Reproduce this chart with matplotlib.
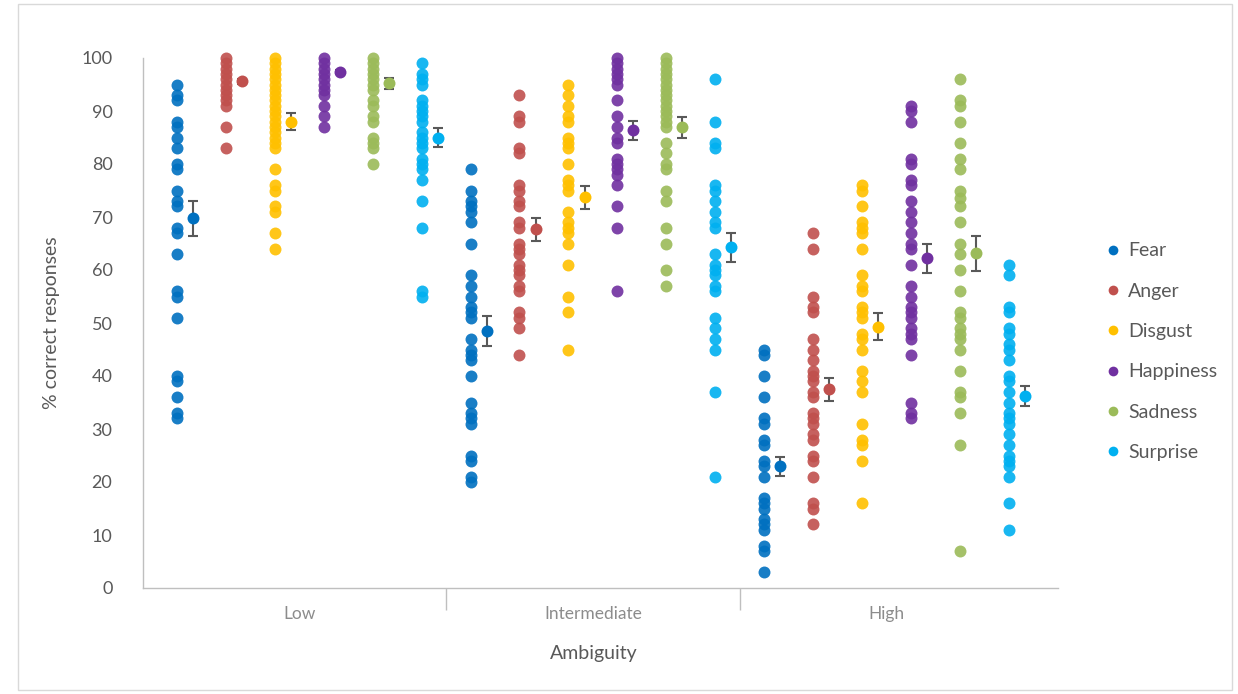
"""Dot plot: % correct responses by emotion and ambiguity level."""

import matplotlib
matplotlib.use("Agg")
import matplotlib.pyplot as plt
from matplotlib.patches import Rectangle
from matplotlib.lines import Line2D

plt.rcParams["font.family"] = ["Lato", "DejaVu Sans"]

# categories and series
levels = ["Low", "Intermediate", "High"]
emotions = ["Fear", "Anger", "Disgust", "Happiness", "Sadness", "Surprise"]
colors = ["#0070C0", "#C0504D", "#FFC000", "#7030A0", "#9BBB59", "#00B0F0"]

# individual scores
low_fear = [95, 93, 92, 88, 87, 85, 83, 80, 79, 75, 73, 72, 68, 67, 63, 56, 55, 51, 40, 39, 36, 33, 32]
low_anger = [100, 99, 98, 97, 96, 95, 94, 93, 92, 91, 87, 83]
low_disgust = [100, 99, 98, 97, 96, 95, 94, 93, 92, 91, 90, 89, 88, 87, 86, 85, 84, 83, 79, 76, 75, 72, 71, 67, 64]
low_happiness = [100, 99, 98, 97, 96, 95, 94, 93, 91, 89, 87]
low_sadness = [100, 99, 98, 97, 96, 95, 94, 92, 91, 89, 88, 85, 84, 83, 80]
low_surprise = [99, 97, 96, 95, 92, 91, 90, 89, 88, 86, 85, 84, 83, 81, 80, 79, 77, 73, 68, 56, 55]

int_fear = [79, 75, 73, 72, 71, 69, 65, 59, 57, 55, 53, 52, 51, 47, 45, 44, 43, 40, 35, 33, 32, 31, 25, 24, 21, 20]
int_anger = [93, 89, 88, 83, 82, 76, 75, 73, 72, 69, 68, 65, 64, 63, 61, 60, 59, 57, 56, 52, 51, 49, 44]
int_disgust = [95, 93, 91, 89, 88, 85, 84, 83, 80, 77, 76, 75, 71, 69, 68, 67, 65, 61, 55, 52, 45]
int_happiness = [100, 99, 98, 97, 96, 95, 92, 89, 87, 85, 84, 81, 80, 79, 78, 76, 72, 68, 56]
int_sadness = [100, 99, 98, 97, 96, 95, 94, 93, 92, 91, 90, 89, 88, 87, 84, 82, 80, 79, 75, 73, 68, 65, 60, 57]
int_surprise = [96, 88, 84, 83, 76, 75, 73, 71, 69, 68, 63, 61, 60, 59, 57, 56, 51, 49, 47, 45, 37, 21]

high_fear = [45, 44, 40, 36, 32, 31, 28, 27, 24, 23, 21, 17, 16, 15, 13, 12, 11, 8, 7, 3]
high_anger = [67, 64, 55, 53, 52, 47, 45, 43, 41, 40, 39, 37, 36, 33, 32, 31, 29, 28, 25, 24, 21, 16, 15, 12]
high_disgust = [76, 75, 72, 69, 68, 67, 64, 59, 57, 56, 53, 52, 51, 48, 47, 45, 41, 39, 37, 31, 28, 27, 24, 16]
high_happiness = [91, 90, 88, 81, 80, 77, 76, 73, 71, 69, 67, 65, 64, 61, 57, 55, 53, 52, 51, 49, 48, 47, 44, 35, 33, 32]
high_sadness = [96, 92, 91, 88, 84, 81, 79, 75, 73.5, 72, 69, 65, 63, 60, 56, 52, 51, 49, 48, 47, 45, 41, 37, 36, 33, 27, 7]
high_surprise = [61, 59, 53, 52, 49, 48, 46, 45, 43, 40, 39, 37, 35, 33, 32, 31, 29, 27, 25, 24, 23, 21, 16, 11]

scores = [
    [low_fear, low_anger, low_disgust, low_happiness, low_sadness, low_surprise],
    [int_fear, int_anger, int_disgust, int_happiness, int_sadness, int_surprise],
    [high_fear, high_anger, high_disgust, high_happiness, high_sadness, high_surprise],
]

# group means and standard errors
means = [
    [69.8, 95.6, 88.0, 97.3, 95.2, 85.0],
    [48.5, 67.7, 73.7, 86.4, 86.9, 64.3],
    [23.0, 37.5, 49.3, 62.2, 63.2, 36.3],
]
errors = [
    [3.3, 0.5, 1.6, 0.4, 1.1, 1.8],
    [2.8, 2.2, 2.2, 1.8, 1.9, 2.7],
    [1.8, 2.2, 2.5, 2.8, 3.3, 1.9],
]

fig = plt.figure(figsize=(12.38, 6.94), dpi=100)
ax = fig.add_axes([143 / 1238, 106 / 694, 915 / 1238, 530 / 694])

grey = "#595959"
ms = 8.6
for i in range(len(levels)):
    for j in range(len(emotions)):
        x = i + (j + 0.5) / 6
        vals = scores[i][j]
        ax.plot([x] * len(vals), vals, "o", color=colors[j], ms=ms,
                mec="none", alpha=0.9, clip_on=False, zorder=2)
        ax.errorbar(x + 0.055, means[i][j], yerr=errors[i][j], fmt="o",
                    color=colors[j], ms=ms, mec="none", ecolor=grey,
                    elinewidth=1.5, capsize=3.6, capthick=1.5, zorder=3,
                    clip_on=False)

ax.set_xlim(-0.032, 3.084)
ax.set_ylim(0, 100)
ax.set_yticks(range(0, 101, 10))
ax.tick_params(axis="y", length=0, pad=22, labelsize=13, labelcolor=grey)

ax.set_xticks([1, 2])
ax.set_xticklabels([])
ax.tick_params(axis="x", which="major", length=16, width=1, color="#BFBFBF")
ax.set_xticks([0.5, 1.5, 2.5], minor=True)
ax.set_xticklabels(levels, minor=True)
ax.tick_params(axis="x", which="minor", length=0, pad=13, labelsize=12.5,
               labelcolor="#8C8C8C")

for side in ["top", "right"]:
    ax.spines[side].set_visible(False)
for side in ["left", "bottom"]:
    ax.spines[side].set_color("#BFBFBF")
    ax.spines[side].set_linewidth(1)

fig.text(594 / 1238, 1 - 653 / 694, "Ambiguity", ha="center", va="center",
         fontsize=14, color=grey)
fig.text(52 / 1238, 1 - 323 / 694, "% correct responses", ha="center",
         va="center", rotation=90, fontsize=14, color=grey)

handles = [Line2D([], [], ls="none", marker="o", color=c, ms=7, mec="none")
           for c in colors]
fig.legend(handles, emotions, loc="upper left",
           bbox_to_anchor=(1090 / 1238, 1 - 225 / 694), frameon=False,
           fontsize=14, labelspacing=1.2, handlelength=0.6,
           handletextpad=0.45, labelcolor=grey)

# outer chart border
fig.patches.append(Rectangle((18 / 1238, 4 / 694), 1214 / 1238, 686 / 694,
                             transform=fig.transFigure, fill=False,
                             ec="#D9D9D9", lw=1))

fig.savefig("out.png", dpi=100)
